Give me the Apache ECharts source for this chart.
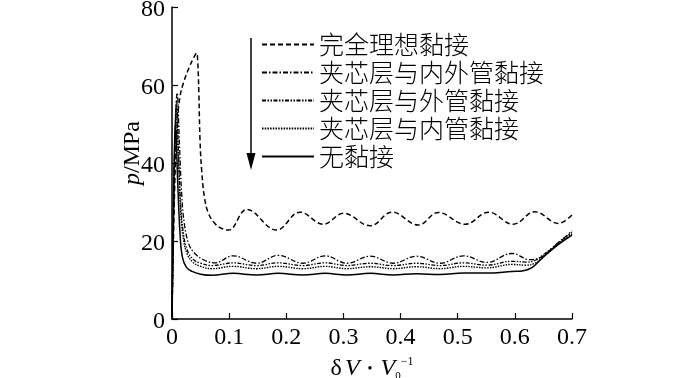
<!DOCTYPE html>
<html>
<head>
<meta charset="UTF-8" />
<title>p - δV/V0</title>
<style>
html, body { margin: 0; padding: 0; background: #fff; }
#main { width: 700px; height: 378px; }
</style>
</head>
<body>
<div id="main"></div>
<script src="https://cdn.jsdelivr.net/npm/echarts@6/dist/echarts.min.js"></script>
<script>
// 图例名称（自上而下）
const names = ['完全理想黏接', '夹芯层与内外管黏接', '夹芯层与外管黏接', '夹芯层与内管黏接', '无黏接'];

// 完全理想黏接
const idealX = [0, 0.004, 0.009, 0.014, 0.02, 0.03, 0.038, 0.043, 0.045, 0.047, 0.049, 0.052, 0.057, 0.064, 0.075, 0.087, 0.099, 0.131, 0.183, 0.224, 0.265, 0.300, 0.347, 0.385, 0.431, 0.466, 0.513, 0.554, 0.597, 0.635, 0.676, 0.7];
const idealY = [0, 30, 50, 57, 60.5, 64.5, 67, 68.2, 66, 58, 46, 38, 31, 27, 24.5, 23.2, 22.8, 28.1, 22.8, 27.4, 24.3, 27.1, 23.9, 27.4, 24.1, 27.3, 24.3, 27.4, 24.3, 27.5, 24.5, 26.7];

// 夹芯层与内外管黏接
const bothX = [0, 0.003, 0.006, 0.009, 0.013, 0.017, 0.022, 0.03, 0.04, 0.055, 0.075, 0.107, 0.148, 0.186, 0.229, 0.268, 0.306, 0.347, 0.387, 0.428, 0.469, 0.51, 0.551, 0.595, 0.627, 0.645, 0.66, 0.675, 0.69, 0.7];
const bothY = [0, 30, 50, 58, 45, 32, 24, 19, 16.8, 15.2, 14.4, 16.2, 14.3, 16.3, 14.3, 16.2, 14.3, 16.1, 14.3, 16.1, 14.3, 16.2, 14.5, 16.8, 15.2, 15.8, 17.5, 19.5, 21.3, 22.6];

// 夹芯层与外管黏接
const outerX = [0, 0.003, 0.005, 0.008, 0.011, 0.015, 0.02, 0.027, 0.037, 0.05, 0.07, 0.107, 0.148, 0.186, 0.229, 0.268, 0.306, 0.347, 0.387, 0.428, 0.469, 0.51, 0.551, 0.595, 0.62, 0.635, 0.65, 0.665, 0.68, 0.7];
const outerY = [0, 28, 45, 56, 44, 30, 22, 17.5, 15.3, 14.3, 13.7, 14.4, 13.7, 14.4, 13.7, 14.4, 13.7, 14.3, 13.7, 14.3, 13.7, 14.4, 13.8, 14.8, 14.6, 15.0, 16.5, 18.2, 20.0, 22.2];

// 夹芯层与内管黏接
const innerX = [0, 0.003, 0.005, 0.007, 0.011, 0.015, 0.02, 0.027, 0.037, 0.05, 0.07, 0.107, 0.148, 0.186, 0.229, 0.268, 0.306, 0.347, 0.387, 0.428, 0.469, 0.51, 0.551, 0.595, 0.62, 0.635, 0.65, 0.665, 0.68, 0.7];
const innerY = [0, 26, 42, 54, 42, 28, 20.5, 16.5, 14.5, 13.5, 12.9, 13.5, 12.9, 13.5, 12.9, 13.5, 12.9, 13.4, 12.9, 13.4, 12.9, 13.5, 13.1, 14.0, 13.8, 14.3, 16.0, 17.8, 19.7, 21.8];

// 无黏接
const noneX = [0, 0.002, 0.004, 0.006, 0.01, 0.014, 0.018, 0.025, 0.035, 0.05, 0.07, 0.107, 0.148, 0.186, 0.229, 0.268, 0.306, 0.347, 0.387, 0.428, 0.469, 0.51, 0.551, 0.595, 0.615, 0.63, 0.645, 0.66, 0.68, 0.7];
const noneY = [0, 25, 42, 50, 35, 22, 16, 13.3, 12.2, 11.5, 11.2, 11.7, 11.3, 11.7, 11.3, 11.7, 11.3, 11.7, 11.3, 11.6, 11.4, 11.8, 11.8, 12.2, 12.4, 13.2, 15.2, 17.2, 19.5, 21.5];

// 坐标轴刻度
const xTicks = [0, 0.1, 0.2, 0.3, 0.4, 0.5, 0.6, 0.7];
const yTicks = [0, 20, 40, 60, 80];

const curves = [
  { x: idealX, y: idealY, dash: [5, 3], width: 1.5 },
  { x: bothX, y: bothY, dash: [5, 2, 1.5, 2], width: 1.3 },
  { x: outerX, y: outerY, dash: [4, 1.5, 1.5, 1.5, 1.5, 1.5], width: 1.3 },
  { x: innerX, y: innerY, dash: [1.5, 1.2], width: 1.4 },
  { x: noneX, y: noneY, dash: 'solid', width: 1.5 }
];

const serif = 'Liberation Serif';
const cjk = 'Noto Sans CJK SC';

const chart = echarts.init(document.getElementById('main'));

const option = {
  animation: false,
  backgroundColor: '#fff',
  grid: { left: 172, right: 128, top: 7, bottom: 59, containLabel: false, outerBoundsMode: 'none' },
  legend: {
    orient: 'vertical',
    left: 256,
    top: 27,
    itemWidth: 52,
    itemHeight: 14,
    itemGap: 3,
    itemStyle: { opacity: 0 },
    textStyle: { fontFamily: cjk, fontSize: 25, fontWeight: 300, color: '#000' },
    data: names
  },
  xAxis: {
    type: 'value',
    min: xTicks[0],
    max: xTicks[xTicks.length - 1],
    interval: 0.1,
    name: '{n|δ}{i|V}{d|•}{i|V}{sub|0}{sup|−1}',
    nameLocation: 'middle',
    nameGap: 37,
    nameMoveOverlap: false,
    nameTextStyle: {
      fontFamily: serif, fontSize: 24, color: '#000',
      rich: {
        n: { fontFamily: serif, fontSize: 24, lineHeight: 26, padding: [0, 3, 0, 0] },
        i: { fontFamily: serif, fontSize: 24, fontStyle: 'italic', lineHeight: 26 },
        d: { fontFamily: serif, fontSize: 14, lineHeight: 26, padding: [0, 8, 0, 8] },
        sub: { fontFamily: serif, fontSize: 11, verticalAlign: 'bottom', lineHeight: 11 },
        sup: { fontFamily: serif, fontSize: 12, verticalAlign: 'top', lineHeight: 12 }
      }
    },
    axisLine: { onZero: false, lineStyle: { color: '#000', width: 1.5 } },
    axisTick: { inside: true, length: 6, lineStyle: { color: '#000', width: 1.2 } },
    axisLabel: {
      margin: 7, color: '#000', fontFamily: serif, fontSize: 24,
      formatter: v => String(+v.toFixed(1))
    },
    splitLine: { show: false }
  },
  yAxis: {
    type: 'value',
    min: yTicks[0],
    max: yTicks[yTicks.length - 1],
    interval: 20,
    name: '{i|p}/MPa',
    nameLocation: 'middle',
    nameRotate: 90,
    nameGap: 27,
    nameMoveOverlap: false,
    nameTextStyle: {
      fontFamily: serif, fontSize: 24, color: '#000',
      padding: [0, 0, 0, 20],
      rich: {
        i: { fontFamily: serif, fontSize: 24, fontStyle: 'italic' }
      }
    },
    axisLine: { onZero: false, lineStyle: { color: '#000', width: 1.5 } },
    axisTick: { inside: true, length: 6, lineStyle: { color: '#000', width: 1.2 } },
    axisLabel: { margin: 7, color: '#000', fontFamily: serif, fontSize: 24, verticalAlign: 'top', lineHeight: 6 },
    splitLine: { show: false }
  },
  graphic: [
    {
      type: 'line',
      shape: { x1: 251, y1: 38, x2: 251, y2: 156 },
      style: { stroke: '#000', lineWidth: 1.5 }
    },
    {
      type: 'polygon',
      shape: { points: [[246.5, 153], [255.5, 153], [251, 170]] },
      style: { fill: '#000' }
    }
  ],
  series: curves.map((c, i) => ({
    name: names[i],
    type: 'line',
    data: c.x.map((x, k) => [x, c.y[k]]),
    symbol: 'none',
    smooth: 0.4,
    itemStyle: { color: '#000' },
    lineStyle: { color: '#000', width: c.width, type: c.dash },
    z: 10 - i
  }))
};

chart.setOption(option);
</script>
</body>
</html>
